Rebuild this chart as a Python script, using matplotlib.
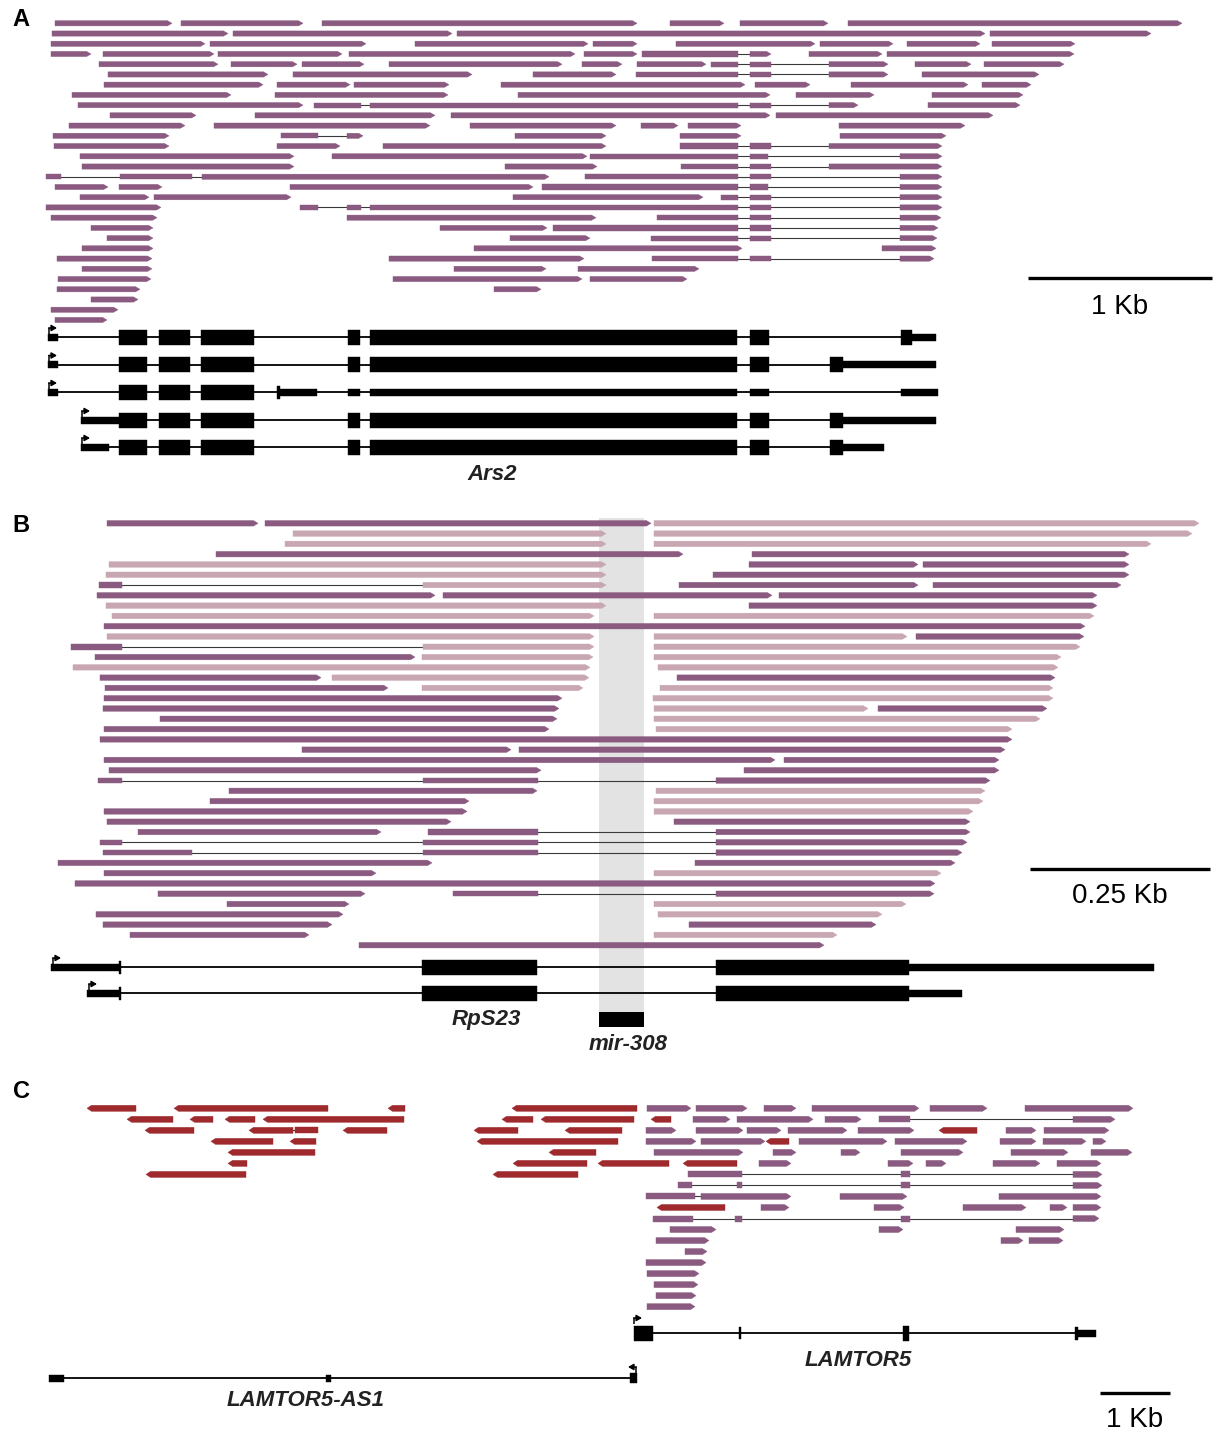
import matplotlib
matplotlib.use("Agg")
import matplotlib.pyplot as plt
from matplotlib.patches import Polygon, Rectangle

# ---------------- DATA (genomic positions in plot units) ----------------
# Panel A: Ars2 locus reads, (row, blocks); all plus strand
A_reads = [
    (0, [(55, 172)]), (0, [(181, 303)]), (0, [(322, 637)]), (0, [(670, 724)]), (0, [(740, 828)]), (0, [(848, 1182)]),
    (1, [(52, 228)]), (1, [(233, 452)]), (1, [(457, 985)]), (1, [(990, 1151)]),
    (2, [(51, 205)]), (2, [(210, 366)]), (2, [(415, 588)]), (2, [(593, 637)]), (2, [(676, 815)]), (2, [(820, 893)]),
    (2, [(907, 980)]), (2, [(992, 1075)]),
    (3, [(51, 91)]), (3, [(103, 214)]), (3, [(218, 342)]), (3, [(349, 575)]), (3, [(584, 637)]),
    (3, [(642, 738), (750, 771)]), (3, [(809, 882)]), (3, [(887, 1074)]),
    (4, [(99, 218)]), (4, [(231, 297)]), (4, [(302, 364)]), (4, [(389, 562)]), (4, [(582, 622)]), (4, [(637, 706)]),
    (4, [(711, 738), (750, 771), (829, 888)]), (4, [(915, 971)]), (4, [(984, 1064)]),
    (5, [(108, 268)]), (5, [(293, 472)]), (5, [(533, 616)]), (5, [(636, 738), (750, 771), (829, 888)]), (5, [(922, 1039)]),
    (6, [(104, 263)]), (6, [(277, 350)]), (6, [(354, 449)]), (6, [(501, 745)]), (6, [(755, 810)]), (6, [(851, 968)]),
    (6, [(982, 1031)]),
    (7, [(72, 231)]), (7, [(275, 448)]), (7, [(518, 770)]), (7, [(796, 874)]), (7, [(932, 1023)]),
    (8, [(78, 303)]), (8, [(314, 361), (370, 738), (750, 771), (829, 858)]), (8, [(928, 1020)]),
    (9, [(110, 196)]), (9, [(255, 435)]), (9, [(451, 770)]), (9, [(776, 993)]),
    (10, [(69, 185)]), (10, [(214, 430)]), (10, [(470, 616)]), (10, [(641, 678)]), (10, [(688, 741)]), (10, [(839, 965)]),
    (11, [(53, 169)]), (11, [(281, 318), (347, 363)]), (11, [(515, 606)]), (11, [(680, 741)]), (11, [(840, 946)]),
    (12, [(54, 169)]), (12, [(277, 340)]), (12, [(383, 606)]), (12, [(680, 738), (750, 771), (829, 942)]),
    (13, [(80, 294)]), (13, [(332, 587)]), (13, [(590, 738), (750, 768), (900, 942)]),
    (14, [(82, 294)]), (14, [(505, 597)]), (14, [(681, 738), (750, 771), (829, 942)]),
    (15, [(46, 61), (120, 192), (202, 549)]), (15, [(585, 738), (750, 771), (900, 942)]),
    (16, [(55, 108)]), (16, [(119, 162)]), (16, [(290, 533)]), (16, [(542, 738), (750, 768), (900, 942)]),
    (17, [(80, 149)]), (17, [(154, 291)]), (17, [(513, 703)]), (17, [(721, 738), (750, 771), (900, 942)]),
    (18, [(46, 161)]), (18, [(300, 318), (347, 361), (370, 738), (750, 771), (900, 942)]),
    (19, [(51, 157)]), (19, [(347, 596)]), (19, [(657, 738), (750, 771), (900, 941)]),
    (20, [(91, 153)]), (20, [(440, 547)]), (20, [(553, 738), (750, 771), (900, 938)]),
    (21, [(107, 153)]), (21, [(510, 590)]), (21, [(651, 738), (750, 771), (900, 937)]),
    (22, [(82, 153)]), (22, [(474, 742)]), (22, [(882, 936)]),
    (23, [(57, 152)]), (23, [(389, 584)]), (23, [(652, 738), (750, 771), (900, 934)]),
    (24, [(82, 152)]), (24, [(454, 546)]), (24, [(578, 699)]),
    (25, [(58, 151)]), (25, [(393, 582)]), (25, [(590, 687)]),
    (26, [(57, 140)]), (26, [(494, 541)]),
    (27, [(91, 138)]), (28, [(51, 118)]), (29, [(55, 107)]),
]

# Ars2 transcripts: parts (start, end, kind) kind c=coding, u=UTR, t=tick
ars2_tx = [
    [(48, 58, 'u'), (119, 147, 'c'), (159, 190, 'c'), (201, 254, 'c'), (348, 360, 'c'), (370, 737, 'c'),
     (750, 769, 'c'), (901, 912, 'c'), (912, 936, 'u')],
    [(48, 58, 'u'), (119, 147, 'c'), (159, 190, 'c'), (201, 254, 'c'), (348, 360, 'c'), (370, 737, 'c'),
     (750, 769, 'c'), (830, 843, 'c'), (843, 936, 'u')],
    [(48, 58, 'u'), (119, 147, 'c'), (159, 190, 'c'), (201, 254, 'c'), (277, 280, 't'), (280, 317, 'u'),
     (348, 360, 'u'), (370, 737, 'u'), (750, 769, 'u'), (901, 938, 'u')],
    [(81, 119, 'u'), (119, 147, 'c'), (159, 190, 'c'), (201, 254, 'c'), (348, 360, 'c'), (370, 737, 'c'),
     (750, 769, 'c'), (830, 843, 'c'), (843, 936, 'u')],
    [(81, 109, 'u'), (119, 147, 'c'), (159, 190, 'c'), (201, 254, 'c'), (348, 360, 'c'), (370, 737, 'c'),
     (750, 769, 'c'), (830, 843, 'c'), (843, 884, 'u')],
]

# Panel B: RpS23 / mir-308 reads, blocks (start, end, shade) shade d=dark, l=light
B_reads = [
    (0, [(107, 258, 'd')]), (0, [(265, 651, 'd')]), (0, [(654, 1199, 'l')]),
    (1, [(293, 606, 'l')]), (1, [(654, 1192, 'l')]),
    (2, [(285, 606, 'l')]), (2, [(654, 1151, 'l')]),
    (3, [(216, 683, 'd')]), (3, [(752, 1129, 'd')]),
    (4, [(109, 606, 'l')]), (4, [(749, 918, 'd')]), (4, [(923, 1129, 'd')]),
    (5, [(106, 606, 'l')]), (5, [(713, 1129, 'd')]),
    (6, [(99, 122, 'd'), (423, 606, 'l')]), (6, [(679, 918, 'd')]), (6, [(933, 1121, 'd')]),
    (7, [(97, 435, 'd')]), (7, [(443, 772, 'd')]), (7, [(779, 1097, 'd')]),
    (8, [(106, 606, 'l')]), (8, [(749, 1097, 'd')]),
    (9, [(112, 594, 'l')]), (9, [(654, 1094, 'l')]),
    (10, [(104, 1085, 'd')]),
    (11, [(107, 594, 'l')]), (11, [(654, 907, 'l')]), (11, [(916, 1084, 'd')]),
    (12, [(71, 122, 'd'), (423, 594, 'l')]), (12, [(654, 1080, 'l')]),
    (13, [(95, 415, 'd')]), (13, [(422, 593, 'l')]), (13, [(654, 1061, 'l')]),
    (14, [(73, 590, 'l')]), (14, [(658, 1058, 'l')]),
    (15, [(100, 321, 'd')]), (15, [(332, 589, 'l')]), (15, [(677, 1055, 'd')]),
    (16, [(105, 388, 'd')]), (16, [(422, 583, 'l')]), (16, [(660, 1053, 'l')]),
    (17, [(104, 562, 'd')]), (17, [(653, 1053, 'l')]),
    (18, [(103, 559, 'd')]), (18, [(654, 868, 'l')]), (18, [(878, 1047, 'd')]),
    (19, [(160, 557, 'd')]), (19, [(654, 1040, 'l')]),
    (20, [(104, 549, 'd')]), (20, [(656, 1012, 'l')]),
    (21, [(100, 1012, 'd')]),
    (22, [(302, 511, 'd')]), (22, [(519, 1005, 'd')]),
    (23, [(104, 775, 'd')]), (23, [(784, 999, 'd')]),
    (24, [(109, 541, 'd')]), (24, [(744, 999, 'd')]),
    (25, [(98, 122, 'd'), (423, 538, 'd'), (716, 990, 'd')]),
    (26, [(229, 537, 'd')]), (26, [(656, 985, 'l')]),
    (27, [(210, 469, 'd')]), (27, [(654, 983, 'l')]),
    (28, [(104, 467, 'd')]), (28, [(654, 973, 'l')]),
    (29, [(107, 451, 'd')]), (29, [(674, 970, 'd')]),
    (30, [(138, 381, 'd')]), (30, [(428, 538, 'd'), (716, 970, 'd')]),
    (31, [(100, 122, 'd'), (423, 538, 'd'), (716, 967, 'd')]),
    (32, [(103, 192, 'd'), (423, 538, 'd'), (716, 962, 'd')]),
    (33, [(58, 432, 'd')]), (33, [(695, 955, 'd')]),
    (34, [(104, 376, 'd')]), (34, [(654, 941, 'l')]),
    (35, [(75, 935, 'd')]),
    (36, [(158, 365, 'd')]), (36, [(453, 538, 'd'), (716, 934, 'd')]),
    (37, [(227, 349, 'd')]), (37, [(654, 906, 'l')]),
    (38, [(96, 343, 'd')]), (38, [(658, 882, 'l')]),
    (39, [(103, 332, 'd')]), (39, [(689, 876, 'd')]),
    (40, [(130, 309, 'd')]), (40, [(654, 837, 'l')]),
    (41, [(359, 824, 'd')]),
]

rps23_tx = [
    [(51, 120, 'u'), (119, 121, 't'), (422, 537, 'c'), (716, 909, 'c'), (909, 1154, 'u')],
    [(87, 120, 'u'), (119, 121, 't'), (422, 537, 'c'), (716, 909, 'c'), (909, 962, 'u')],
]
mir308 = (599, 644)

# Panel C: LAMTOR5 locus; minus-strand (antisense) reads and plus-strand reads
C_minus_reads = [
    (0, [(87, 136)]), (0, [(174, 328)]), (0, [(388, 405)]), (0, [(512, 637)]),
    (1, [(127, 173)]), (1, [(190, 213)]), (1, [(225, 255)]), (1, [(263, 404)]), (1, [(502, 533)]),
    (1, [(541, 634)]), (1, [(651, 671)]),
    (2, [(145, 194)]), (2, [(249, 293), (295, 318)]), (2, [(343, 387)]), (2, [(474, 518)]), (2, [(565, 622)]),
    (2, [(939, 977)]),
    (3, [(211, 273)]), (3, [(290, 316)]), (3, [(477, 618)]), (3, [(766, 789)]),
    (4, [(228, 315)]), (4, [(549, 596)]),
    (5, [(228, 247)]), (5, [(513, 587)]), (5, [(598, 669)]), (5, [(683, 737)]),
    (6, [(146, 246)]), (6, [(493, 578)]),
    (9, [(657, 725)]),
]
C_plus_reads = [
    (0, [(647, 691)]), (0, [(696, 747)]), (0, [(764, 796)]), (0, [(812, 919)]), (0, [(930, 987)]), (0, [(1025, 1133)]),
    (1, [(693, 730)]), (1, [(737, 813)]), (1, [(825, 861)]), (1, [(879, 910), (1073, 1115)]),
    (2, [(646, 676)]), (2, [(696, 743)]), (2, [(747, 781)]), (2, [(788, 847)]), (2, [(858, 914)]),
    (2, [(1006, 1036)]), (2, [(1044, 1109)]),
    (3, [(646, 696)]), (3, [(701, 765)]), (3, [(799, 887)]), (3, [(895, 967)]), (3, [(1000, 1036)]),
    (3, [(1043, 1086)]), (3, [(1093, 1106)]),
    (4, [(654, 743)]), (4, [(773, 796)]), (4, [(841, 860)]), (4, [(901, 963)]), (4, [(1011, 1068)]), (4, [(1091, 1132)]),
    (5, [(759, 791)]), (5, [(888, 913)]), (5, [(926, 946)]), (5, [(993, 1040)]), (5, [(1057, 1101)]),
    (6, [(688, 742), (901, 910), (1073, 1102)]),
    (7, [(678, 692), (737, 742), (901, 910), (1073, 1102)]),
    (8, [(646, 695), (701, 791)]), (8, [(840, 907)]), (8, [(999, 1101)]),
    (9, [(761, 789)]), (9, [(874, 904)]), (9, [(963, 1026)]), (9, [(1050, 1067)]), (9, [(1073, 1101)]),
    (10, [(653, 693), (735, 742), (901, 910), (1073, 1099)]),
    (11, [(670, 716)]), (11, [(879, 903)]), (11, [(1016, 1064)]),
    (12, [(656, 709)]), (12, [(1001, 1023)]), (12, [(1029, 1063)]),
    (13, [(685, 707)]), (14, [(646, 706)]), (15, [(647, 699)]), (16, [(654, 698)]), (17, [(656, 696)]),
    (18, [(647, 695)]),
]
lamtor5_tx = [(634, 653, 'c'), (739, 741, 'tt'), (903, 909, 'c'), (1075, 1078, 't'), (1078, 1096, 'u')]
lamtor5as1_tx = [(49, 64, 'u'), (326, 331, 'u'), (630, 637, 'u2')]

# ---------------- STYLE ----------------
DARK = '#8A5A80'
LIGHT = '#C8A6B2'
RED = '#9E2A2D'
W, H = 1221, 1437

fig = plt.figure(figsize=(W / 100, H / 100), dpi=100)
ax = fig.add_axes([0, 0, 1, 1])
ax.set_xlim(0, W)
ax.set_ylim(H, 0)
ax.axis('off')


def block(s, e, yc, h, color, arrow=None, z=3):
    a = min(4.5, (e - s) * 0.5)
    if arrow == 'r':
        pts = [(s, yc - h / 2), (e - a, yc - h / 2), (e, yc), (e - a, yc + h / 2), (s, yc + h / 2)]
    elif arrow == 'l':
        pts = [(s, yc), (s + a, yc - h / 2), (e, yc - h / 2), (e, yc + h / 2), (s + a, yc + h / 2)]
    else:
        pts = [(s, yc - h / 2), (e, yc - h / 2), (e, yc + h / 2), (s, yc + h / 2)]
    ax.add_patch(Polygon(pts, closed=True, facecolor=color, edgecolor=color, lw=0.3, zorder=z))


def draw_read(blocks, yc, h, colors, strand='+'):
    for (b0, b1) in zip(blocks[:-1], blocks[1:]):
        ax.plot([b0[1], b1[0]], [yc, yc], color='#3a3a3a', lw=0.8, zorder=2)
    n = len(blocks)
    for i, (s, e) in enumerate(blocks):
        arrow = None
        if strand == '+' and i == n - 1:
            arrow = 'r'
        if strand == '-' and i == 0:
            arrow = 'l'
        block(s, e, yc, h, colors[i], arrow)


def tss(x, y, direction=1):
    # small bent arrow above the transcript start (y = transcript centre)
    top = y - 9
    ax.plot([x, x], [y - 3, top], color='k', lw=1.1, zorder=4, solid_capstyle='butt')
    ax.annotate('', xy=(x + 8 * direction, top), xytext=(x - 0.4 * direction, top),
                arrowprops=dict(arrowstyle='-|>,head_length=0.35,head_width=0.2', lw=1.1, color='k',
                                shrinkA=0, shrinkB=0, mutation_scale=9), zorder=4)


def transcript(y, parts, hc=15, hu=7):
    x0 = min(p[0] for p in parts)
    x1 = max(p[1] for p in parts)
    ax.plot([x0, x1], [y, y], color='k', lw=1.3, zorder=3, solid_capstyle='butt')
    for s, e, k in parts:
        if k == 'c':
            h = hc
        elif k == 't':
            h = hc - 2
        elif k == 'tt':
            h = hc - 3
        elif k == 'u2':
            h = hu + 3
        else:
            h = hu
        ax.add_patch(Rectangle((s, y - h / 2), e - s, h, facecolor='k', edgecolor='k', lw=0.3, zorder=4))


label_kw = dict(ha='center', va='center', fontsize=16, fontweight='bold', style='italic',
                family='Liberation Sans', color='#222222')

# ---------------- Panel A ----------------
A_y0, A_dy = 23.3, 10.23
for r, blocks in A_reads:
    draw_read(blocks, A_y0 + r * A_dy, 5.2, [DARK] * len(blocks))

ars2_y = [337, 364.5, 392, 420, 447]
for yy, tx in zip(ars2_y, ars2_tx):
    transcript(yy, tx)
    tss(tx[0][0] + 1, yy)
ax.text(492, 475, 'Ars2', **label_kw)
ax.plot([1028, 1212], [278, 278], color='k', lw=2.4, solid_capstyle='butt')
ax.text(1120, 307, '1 Kb', ha='center', va='center', fontsize=20, family='Liberation Sans')

# ---------------- Panel B ----------------
B_y0, B_dy = 523.3, 10.29
ax.add_patch(Rectangle((mir308[0], 518), mir308[1] - mir308[0], 1012 - 518, facecolor='#E3E3E3',
                       edgecolor='none', zorder=0))
shade = {'d': DARK, 'l': LIGHT}
for r, blocks in B_reads:
    draw_read([(s, e) for s, e, c in blocks], B_y0 + r * B_dy, 5.5, [shade[c] for s, e, c in blocks])

rps_y = [967, 993]
for yy, tx in zip(rps_y, rps23_tx):
    transcript(yy, tx)
    tss(tx[0][0] + 2, yy)
ax.add_patch(Rectangle((mir308[0], 1012), mir308[1] - mir308[0], 15, facecolor='k', zorder=4))
ax.text(486, 1020, 'RpS23', **label_kw)
ax.text(628, 1045, 'mir-308', **label_kw)
ax.plot([1030, 1210], [869, 869], color='k', lw=2.4, solid_capstyle='butt')
ax.text(1120, 896, '0.25 Kb', ha='center', va='center', fontsize=20, family='Liberation Sans')

# ---------------- Panel C ----------------
C_y0, C_dy = 1108.3, 11.02
for r, blocks in C_minus_reads:
    draw_read(blocks, C_y0 + r * C_dy, 6, [RED] * len(blocks), strand='-')
for r, blocks in C_plus_reads:
    draw_read(blocks, C_y0 + r * C_dy, 6, [DARK] * len(blocks), strand='+')

transcript(1333, lamtor5_tx)
tss(634, 1327)
transcript(1378, lamtor5as1_tx)
tss(636, 1376, direction=-1)
ax.text(858, 1360, 'LAMTOR5', **label_kw)
ax.text(306, 1400, 'LAMTOR5-AS1', **label_kw)
ax.plot([1100, 1170], [1393, 1393], color='k', lw=2.4, solid_capstyle='butt')
ax.text(1135, 1420, '1 Kb', ha='center', va='center', fontsize=20, family='Liberation Sans')

# panel letters
for lab, yy in [('A', 20), ('B', 525), ('C', 1092)]:
    ax.text(21, yy, lab, ha='center', va='center', fontsize=17, fontweight='bold', family='Liberation Sans')

fig.savefig('out.png', dpi=100)
